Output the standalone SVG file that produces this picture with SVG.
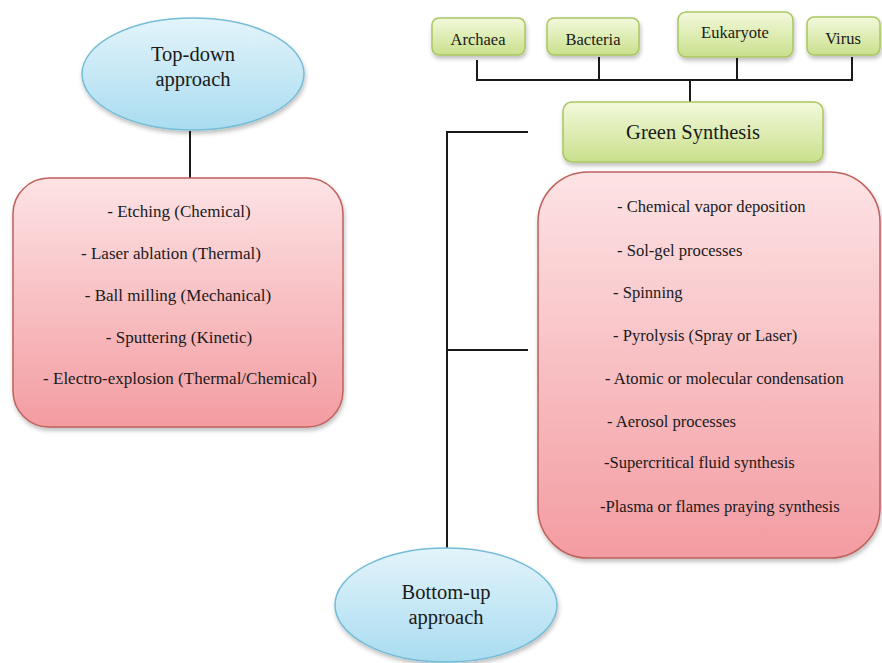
<svg xmlns="http://www.w3.org/2000/svg" width="882" height="663" viewBox="0 0 882 663">
<defs>
<linearGradient id="gBlue" x1="0" y1="0" x2="0" y2="1">
<stop offset="0" stop-color="#e3f4fb"/>
<stop offset="1" stop-color="#a9dcf0"/>
</linearGradient>
<linearGradient id="gGreen" x1="0" y1="0" x2="0" y2="1">
<stop offset="0" stop-color="#f3f9dc"/>
<stop offset="1" stop-color="#c9e08c"/>
</linearGradient>
<linearGradient id="gPink" x1="0" y1="0" x2="0" y2="1">
<stop offset="0" stop-color="#fde3e5"/>
<stop offset="1" stop-color="#f39ca1"/>
</linearGradient>
<filter id="sh" x="-10%" y="-10%" width="120%" height="130%">
<feDropShadow dx="1" dy="3" stdDeviation="2" flood-color="#000" flood-opacity="0.25"/>
</filter>
</defs>
<style>
.ell{fill:url(#gBlue);stroke:#74bcd6;stroke-width:1.5;filter:url(#sh)}
.grn{fill:url(#gGreen);stroke:#a9c661;stroke-width:1.5;filter:url(#sh)}
.pnk{fill:url(#gPink);stroke:#c0605c;stroke-width:1.5;filter:url(#sh)}
text{font-family:"Liberation Serif","Times New Roman",serif;fill:#1a1a1a}
.t18{font-size:20.5px;text-anchor:middle}
.t15{font-size:17px}
.r15{font-size:16.6px}
.t16{font-size:16.5px;text-anchor:middle}
.mid{text-anchor:middle}
.con{fill:none;stroke:#1a1a1a;stroke-width:2}
</style>
<rect width="882" height="663" fill="#ffffff"/>
<g id="connectors">
<path class="con" d="M190 131 V178"/>
<path class="con" d="M477 60 V80 M599 57 V80 M737 58 V80 M852 57 V80 M476 80 H853 M690 80 V102"/>
<path class="con" d="M528 132 H447 V548 M447 350 H528"/>
</g>
<g id="top-down">
<ellipse class="ell" cx="193" cy="74" rx="111" ry="56"/>
<text class="t18" x="193" y="61">Top-down</text>
<text class="t18" x="193" y="86">approach</text>
</g>
<g id="top-down-list">
<rect class="pnk" x="13" y="178" width="330" height="249" rx="36"/>
<text class="t15 mid" x="179" y="217">- Etching (Chemical)</text>
<text class="t15 mid" x="171" y="259">- Laser ablation (Thermal)</text>
<text class="t15 mid" x="178" y="301">- Ball milling (Mechanical)</text>
<text class="t15 mid" x="179" y="343">- Sputtering (Kinetic)</text>
<text class="t15 mid" x="180" y="384">- Electro-explosion (Thermal/Chemical)</text>
</g>
<g id="archaea">
<rect class="grn" x="432" y="18" width="93" height="37" rx="7"/>
<text class="t16" x="478" y="45">Archaea</text>
</g>
<g id="bacteria">
<rect class="grn" x="547" y="18" width="92" height="37" rx="7"/>
<text class="t16" x="593" y="45">Bacteria</text>
</g>
<g id="eukaryote">
<rect class="grn" x="678" y="12" width="115" height="45" rx="8"/>
<text class="t16" x="735" y="38">Eukaryote</text>
</g>
<g id="virus">
<rect class="grn" x="807" y="17" width="73" height="38" rx="7"/>
<text class="t16" x="843" y="44">Virus</text>
</g>
<g id="green-synthesis">
<rect class="grn" x="563" y="102" width="260" height="60" rx="9"/>
<text class="t18" x="693" y="139">Green Synthesis</text>
</g>
<g id="bottom-up-list">
<rect class="pnk" x="538" y="172" width="342" height="386" rx="50"/>
<text class="r15" x="617" y="212">- Chemical vapor deposition</text>
<text class="r15" x="617" y="256">- Sol-gel processes</text>
<text class="r15" x="613" y="298">- Spinning</text>
<text class="r15" x="613" y="341">- Pyrolysis (Spray or Laser)</text>
<text class="r15" x="605" y="384">- Atomic or molecular condensation</text>
<text class="r15" x="607" y="427">- Aerosol processes</text>
<text class="r15" x="604" y="468">-Supercritical fluid synthesis</text>
<text class="r15" x="600" y="512">-Plasma or flames praying synthesis</text>
</g>
<g id="bottom-up">
<ellipse class="ell" cx="446" cy="605" rx="111" ry="57"/>
<text class="t18" x="446" y="599">Bottom-up</text>
<text class="t18" x="446" y="624">approach</text>
</g>
</svg>
